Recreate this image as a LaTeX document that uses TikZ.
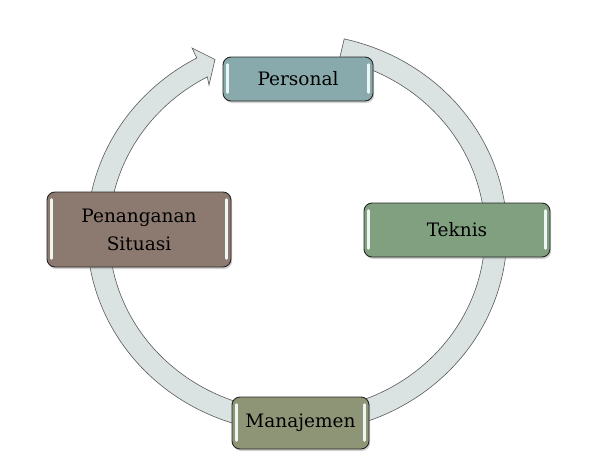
\documentclass[tikz,border=0pt]{standalone}
\usepackage{fontspec}
\setmainfont{DejaVu Serif}
\usetikzlibrary{shadows}
\definecolor{ringfill}{HTML}{DAE2E2}
\definecolor{ringline}{HTML}{5A5A5A}
\definecolor{cPers}{HTML}{89AAAC}
\definecolor{cTek}{HTML}{80A080}
\definecolor{cMan}{HTML}{8E9476}
\definecolor{cPen}{HTML}{8C7A70}
\definecolor{hlcol}{HTML}{EEF6F4}
\begin{document}
\begin{tikzpicture}[x=1pt,y=-1pt,
  box/.style={draw=black!85, line width=0.9pt, rounded corners=8pt, inner sep=0pt,
    font=\fontsize{18.5}{28}\selectfont, text=black, align=center,
    drop shadow={opacity=0.35, shadow xshift=1.2pt, shadow yshift=-2pt}},
  hl/.style={draw=hlcol, line width=2.6pt, line cap=round},
  ringsty/.style={fill=ringfill, draw=ringline, line width=0.6pt}]
\useasboundingbox (0,0) rectangle (595,463);
\fill[white] (0,0) rectangle (595,463);
% circular arrow ring
\path[ringsty]
  plot[domain=-77:241.5, samples=160, smooth] ({297+210*cos(\x)},{233.3+199.5*sin(\x)})
  -- (192,48) -- (215,59.5) -- (209,85)
  -- plot[domain=241.5:-77, samples=160, smooth] ({297+188*cos(\x)},{233.3+178*sin(\x)})
  -- cycle;
% boxes
\node[box, fill=cPers, minimum width=150pt, minimum height=44pt] (P) at (298,79) {Personal};
\node[box, fill=cTek, minimum width=186pt, minimum height=54pt] (T) at (457,230) {Teknis};
\node[box, fill=cMan, minimum width=137pt, minimum height=52pt] (M) at (300.5,423) {Manajemen};
\node[box, fill=cPen, minimum width=184pt, minimum height=75pt] (S) at (139,229.5) {Penanganan\\Situasi};
% glossy highlights
\foreach \n in {P,T,M,S}{
  \draw[hl] ([xshift=5pt,yshift=-8pt]\n.north west) -- ([xshift=5pt,yshift=9pt]\n.south west);
  \draw[hl] ([xshift=-5pt,yshift=-8pt]\n.north east) -- ([xshift=-5pt,yshift=9pt]\n.south east);
}
\end{tikzpicture}
\end{document}
